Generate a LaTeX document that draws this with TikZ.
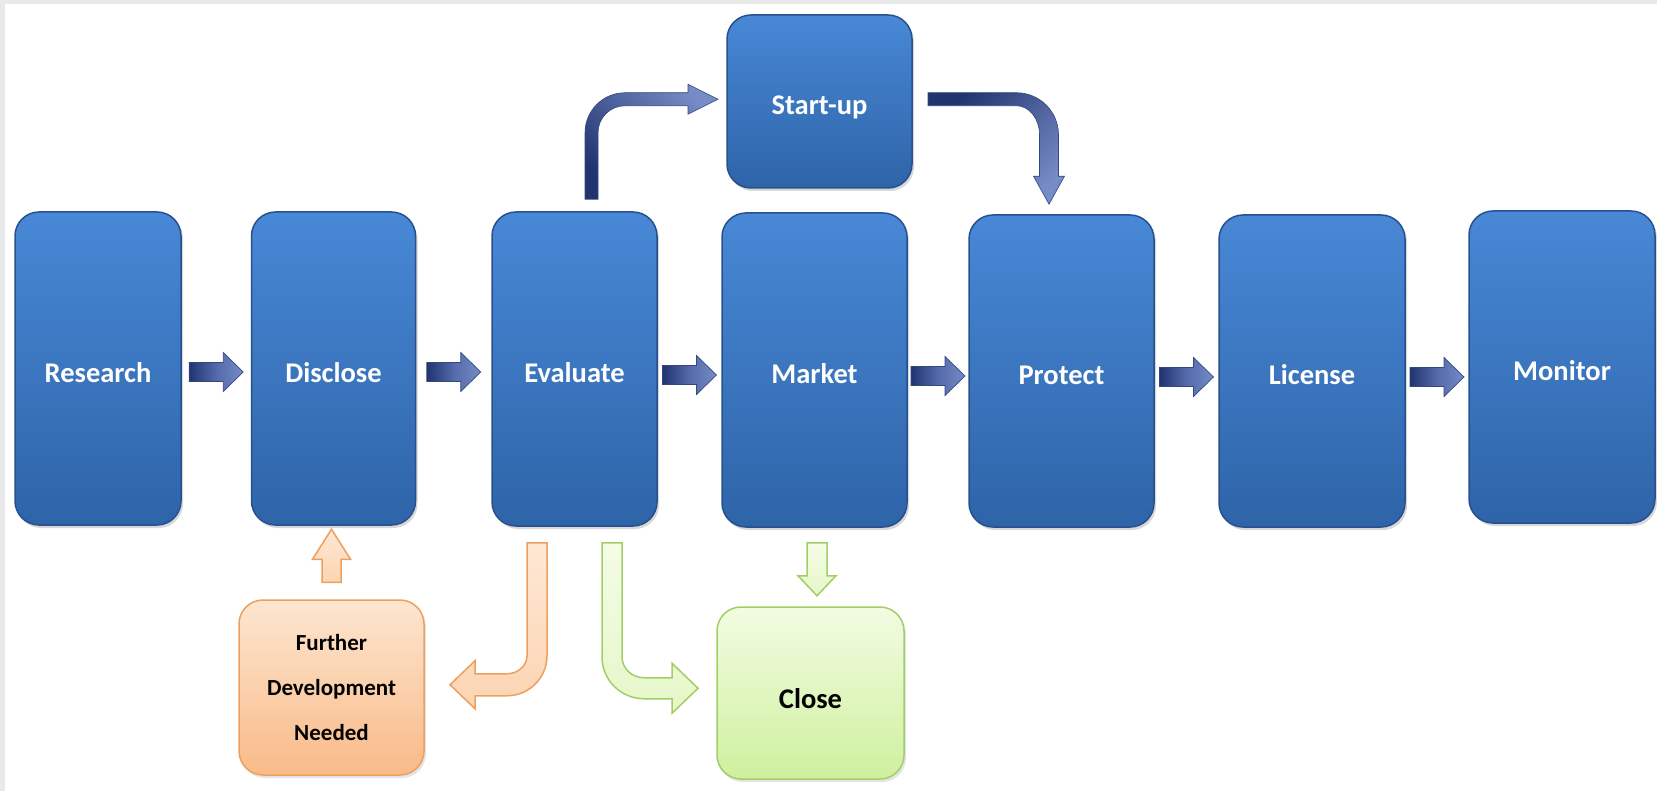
\documentclass[tikz,border=0pt]{standalone}
\usepackage{fontspec}
\setmainfont{Carlito}
\usetikzlibrary{calc,shadows}
\definecolor{boxtop}{RGB}{72,136,214}
\definecolor{boxbot}{RGB}{46,100,168}
\definecolor{boxedge}{RGB}{40,80,142}
\definecolor{navy}{RGB}{34,52,112}
\definecolor{midsteel}{RGB}{84,106,170}
\definecolor{steel}{RGB}{118,140,198}
\definecolor{arredge}{RGB}{52,72,128}
\definecolor{peachtop}{RGB}{253,230,208}
\definecolor{peachbot}{RGB}{249,186,136}
\definecolor{peachedge}{RGB}{236,160,96}
\definecolor{peacharr}{RGB}{252,212,178}
\definecolor{peachlight}{RGB}{254,232,212}
\definecolor{limetop}{RGB}{242,252,226}
\definecolor{limebot}{RGB}{207,240,158}
\definecolor{limeedge}{RGB}{162,206,104}
\definecolor{limearr}{RGB}{230,247,200}
\definecolor{limelight}{RGB}{244,252,230}
\definecolor{framegray}{RGB}{233,233,233}
\begin{document}
\begin{tikzpicture}[x=1pt,y=-1pt,
  bluebox/.style={rectangle, rounded corners=24pt, top color=boxtop, bottom color=boxbot,
    draw=boxedge, line width=1.5pt, text=white, inner sep=0pt,
    text height=27pt, text depth=0pt,
    font=\fontsize{28.5}{34}\selectfont\bfseries,
    drop shadow={opacity=0.3,shadow xshift=2pt,shadow yshift=-3pt}},
  peachbox/.style={rectangle, rounded corners=24pt, top color=peachtop, bottom color=peachbot,
    draw=peachedge, line width=1.5pt, text=black, inner sep=0pt, align=center,
    font=\fontsize{23}{45}\selectfont\bfseries,
    drop shadow={opacity=0.2,shadow xshift=2pt,shadow yshift=-3pt}},
  limebox/.style={rectangle, rounded corners=24pt, top color=limetop, bottom color=limebot,
    draw=limeedge, line width=1.5pt, text=black, inner sep=0pt,
    text height=30pt, text depth=0pt,
    font=\fontsize{28.5}{34}\selectfont\bfseries,
    drop shadow={opacity=0.2,shadow xshift=2pt,shadow yshift=-3pt}},
  barrow/.style={left color=navy, right color=steel, middle color=midsteel, draw=arredge, line width=0.7pt},
  oarrow/.style={top color=peachlight, bottom color=peacharr, draw=peachedge, line width=1.5pt},
  garrow/.style={top color=limelight, bottom color=limearr, draw=limeedge, line width=1.5pt}]

\useasboundingbox (0,0) rectangle (1657,791);
\fill[white] (0,0) rectangle (1657,791);
\fill[framegray] (0,0) rectangle (5,791);
\fill[framegray] (0,0) rectangle (1657,4);

% main row
\node[bluebox, minimum width=166pt, minimum height=313pt] (research) at (98,368.5) {Research};
\node[bluebox, minimum width=164pt, minimum height=313pt] (disclose) at (333.5,368.5) {Disclose};
\node[bluebox, minimum width=165pt, minimum height=314pt] (evaluate) at (574.5,369) {Evaluate};
\node[bluebox, minimum width=185pt, minimum height=314pt] (market) at (814.5,370) {Market};
\node[bluebox, minimum width=185pt, minimum height=312pt] (protect) at (1061.5,371) {Protect};
\node[bluebox, minimum width=186pt, minimum height=312pt] (license) at (1312,371) {License};
\node[bluebox, minimum width=186pt, minimum height=312pt] (monitor) at (1562,367) {Monitor};
\node[bluebox, minimum width=185pt, minimum height=173pt] (startup) at (819.5,101.5) {Start-up};
\node[peachbox, minimum width=185pt, minimum height=175pt] (further) at (331.5,687.5) {Further\\Development\\Needed};
\node[limebox, minimum width=187pt, minimum height=172pt] (close) at (810.5,693) {Close};

% straight blue arrows
\newcommand\harr[3]{%
  \coordinate (hm) at ($(#1.east)!0.5!(#2.west)$);
  \coordinate (hy) at (0,#3);
  \begin{scope}[shift={(hm |- hy)}]
    \path[barrow] (-27,-9.5) -- (7,-9.5) -- (7,-19.5) -- (27,0) -- (7,19.5) -- (7,9.5) -- (-27,9.5) -- cycle;
  \end{scope}}
\harr{research}{disclose}{372}
\harr{disclose}{evaluate}{372}
\harr{evaluate}{market}{375}
\harr{market}{protect}{376}
\harr{protect}{license}{377}
\harr{license}{monitor}{377}

% Evaluate -> Start-up
\coordinate (e2sc) at ($(evaluate.north)+(17,-112)$);
\begin{scope}[shift={(e2sc)}]
  \path[top color=steel, bottom color=navy, shading angle=-45, draw=arredge, line width=0.6pt]
    (-6.5,100) -- (-6.5,33.5) .. controls (-6.5,11.4) and (11.4,-6.5) .. (33.5,-6.5)
    -- (96.5,-6.5) -- (96.5,-15) -- (126.5,0) -- (96.5,15) -- (96.5,6.5)
    -- (33.5,6.5) .. controls (18.6,6.5) and (6.5,18.6) .. (6.5,33.5) -- (6.5,100) -- cycle;
\end{scope}

% Start-up -> Protect
\coordinate (s2pc) at ($(protect.north)+(-12.5,-115)$);
\begin{scope}[shift={(s2pc)}]
  \path[top color=navy, bottom color=steel, shading angle=45, draw=arredge, line width=0.6pt]
    (-121,-6.5) -- (-32.5,-6.5) .. controls (-9.3,-6.5) and (9.5,12.3) .. (9.5,35.5)
    -- (9.5,77) -- (15.5,77) -- (0,105) -- (-15.5,77) -- (-9.5,77)
    -- (-9.5,35.5) .. controls (-9.5,19.5) and (-19.8,6.5) .. (-32.5,6.5) -- (-121,6.5) -- cycle;
\end{scope}

% Evaluate -> Further (orange J)
\coordinate (e2fc) at ($(evaluate.south)+(-37.5,158)$);
\begin{scope}[shift={(e2fc)}]
  \path[oarrow]
    (10,-142) -- (10,-29) .. controls (10,-6.9) and (-7.9,11) .. (-30,11)
    -- (-62,11) -- (-62,24) -- (-87,0) -- (-62,-24) -- (-62,-11)
    -- (-30,-11) .. controls (-19,-11) and (-10,-19.1) .. (-10,-29) -- (-10,-142) -- cycle;
\end{scope}

% Evaluate -> Close (green L)
\coordinate (e2cc) at ($(evaluate.south)+(37.5,161.5)$);
\begin{scope}[shift={(e2cc)}]
  \path[garrow]
    (-10,-145.5) -- (-10,-31.5) .. controls (-10,-8.3) and (8.8,10.5) .. (32,10.5)
    -- (60,10.5) -- (60,25) -- (86,0) -- (60,-25) -- (60,-10.5)
    -- (32,-10.5) .. controls (19.8,-10.5) and (10,-19.9) .. (10,-31.5) -- (10,-145.5) -- cycle;
\end{scope}

% Further -> Disclose (orange up)
\begin{scope}[shift={(further.north)}]
  \path[oarrow] (-9.5,-17) -- (-9.5,-40) -- (-19,-40) -- (0,-70) -- (19,-40) -- (9.5,-40) -- (9.5,-17) -- cycle;
\end{scope}

% Market -> Close (green down)
\coordinate (m2c) at ($(market.south)+(2.5,0)$);
\begin{scope}[shift={(m2c)}]
  \path[garrow] (-10,15) -- (-10,48) -- (-19,48) -- (0,68) -- (19,48) -- (10,48) -- (10,15) -- cycle;
\end{scope}
\end{tikzpicture}
\end{document}
